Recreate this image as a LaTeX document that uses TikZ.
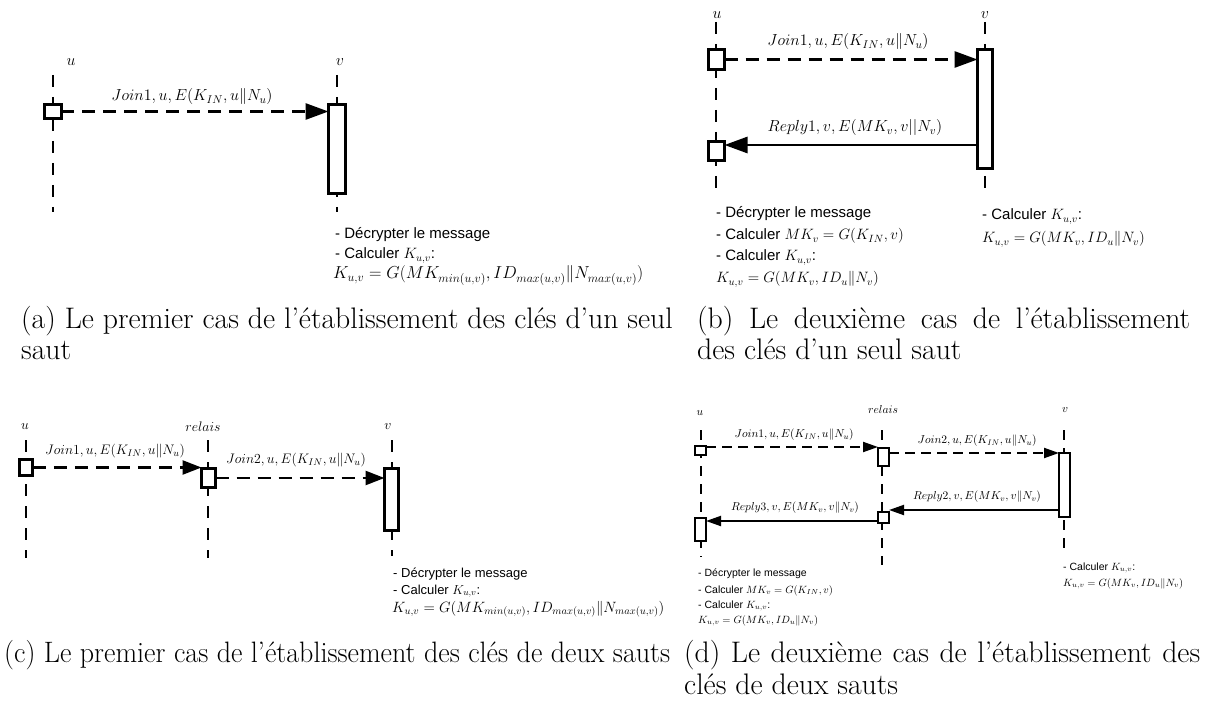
\RequirePackage{fix-cm}
\documentclass[tikz,border=0pt]{standalone}
\usepackage{graphicx}
\usepackage{fontspec}
\newfontfamily\hv{Liberation Sans}
\usetikzlibrary{arrows.meta}

\tikzset{
  life/.style={line width=1.8pt, dash pattern=on 12pt off 10pt},
  actbox/.style={draw, line width=2.6pt, fill=white, inner sep=0pt, outer sep=0pt},
  msg/.style={line width=2.8pt, -{Triangle[length=23pt,width=16pt]}},
  msgdash/.style={msg, dash pattern=on 13pt off 8pt},
  lbl/.style={inner sep=0pt, font=\fontsize{16}{19}\selectfont},
  notetxt/.style={anchor=base west, inner sep=0pt, font=\hv\fontsize{15}{18}\selectfont},
  captxt/.style={anchor=base west, inner sep=0pt, font=\fontsize{29.7}{32}\selectfont},
}

\begin{document}
\begin{tikzpicture}[x=1pt, y=-1pt]
\useasboundingbox (0,0) rectangle (1206,708);

% ---------------- (a) one hop, first case ----------------
\begin{scope}
  \node[lbl] (aul) at (71,62) {$u$};
  \node[lbl] (avl) at (340,62) {$v$};
  \draw[life] (53,75) -- (53,212);
  \draw[life] (337,75) -- (337,212);
  \node[actbox, minimum width=16.5, minimum height=14.5] (aub) at (53,111.5) {};
  \node[actbox, minimum width=17, minimum height=89] (avb) at (337,149) {};
  \draw[msgdash] (aub.east) -- (aub.east -| avb.west);
  \node[lbl] (am1) at (192,97) {$Join1, u, E(K_{IN}, u\|N_u)$};
  \node[notetxt] (an1) at (335,239) {- Décrypter le message};
  \node[notetxt] (an2) at (335,259) {- Calculer $K_{u,v}$:};
  \node[notetxt, font=\fontsize{17.3}{20}\selectfont] (an3) at (333,279)
    {$K_{u,v} = G(MK_{min(u,v)}, ID_{max(u,v)}\|N_{max(u,v)})$};
  \node[captxt] (acap1) at (21,328) {(a) Le premier cas de l'établissement des clés d'un seul};
  \node[captxt] (acap2) at (21,359) {saut};
\end{scope}

% ---------------- (b) one hop, second case ----------------
\begin{scope}
  \node[lbl] (bul) at (717,15) {$u$};
  \node[lbl] (bvl) at (985,15) {$v$};
  \draw[life] (716,22) -- (716,197);
  \draw[life] (985,22) -- (985,197);
  \node[actbox, minimum width=16, minimum height=20] (bub1) at (716.5,59.5) {};
  \node[actbox, minimum width=16, minimum height=19] (bub2) at (716.5,151) {};
  \node[actbox, minimum width=15, minimum height=119] (bvb) at (985,109) {};
  \coordinate (br1) at (850,145);
  \draw[msgdash] (bub1.east) -- (bub1.east -| bvb.west);
  \draw[msg] (bvb.west |- br1) -- (bub2.east |- br1);
  \node[lbl] (bm1) at (848,42) {$Join1, u, E(K_{IN}, u\|N_u)$};
  \node[lbl] (bm2) at (855,128) {$Reply1, v, E(MK_v, v||N_v)$};
  \node[notetxt] (bn1) at (716,218) {- Décrypter le message};
  \node[notetxt] (bn2) at (716,240) {- Calculer $MK_v = G(K_{IN}, v)$};
  \node[notetxt] (bn3) at (716,261) {- Calculer $K_{u,v}$:};
  \node[notetxt] (bn4) at (716,283) {$K_{u,v} = G(MK_v, ID_u\|N_v)$};
  \node[notetxt] (bn5) at (982,220) {- Calculer $K_{u,v}$:};
  \node[notetxt] (bn6) at (982,243) {$K_{u,v} = G(MK_v, ID_u\|N_v)$};
  \node[captxt] (bcap1) at (697,328) {\makebox[493pt][s]{(b) Le deuxième cas de l'établissement}};
  \node[captxt] (bcap2) at (697,359) {des clés d'un seul saut};
\end{scope}

% ---------------- (c) two hops, first case ----------------
\begin{scope}[lbl/.append style={font=\fontsize{13.8}{16}\selectfont},
              notetxt/.append style={font=\hv\fontsize{13}{16}\selectfont},
              msg/.append style={line width=2.5pt, -{Triangle[length=19pt,width=14pt]}}]
  \node[lbl] (cul) at (25,427) {$u$};
  \node[lbl] (crl) at (203,427) {$relais$};
  \node[lbl] (cvl) at (388,427) {$v$};
  \draw[life] (26,440) -- (26,558);
  \draw[life] (208,440) -- (208,558);
  \draw[life] (392,440) -- (392,556);
  \node[actbox, minimum width=13.5, minimum height=16.5] (cub) at (26,467.5) {};
  \node[actbox, minimum width=14, minimum height=19.5] (crb) at (208.5,478) {};
  \node[actbox, minimum width=14, minimum height=62] (cvb) at (391.5,499.5) {};
  \draw[msgdash] (cub.east) -- (cub.east -| crb.west);
  \draw[msgdash] (crb.east) -- (crb.east -| cvb.west);
  \node[lbl] (cm1) at (115,451) {$Join1, u, E(K_{IN}, u\|N_u)$};
  \node[lbl] (cm2) at (296,460) {$Join2, u, E(K_{IN}, u\|N_u)$};
  \node[notetxt] (cn1) at (393,577) {- Décrypter le message};
  \node[notetxt] (cn2) at (393,594) {- Calculer $K_{u,v}$:};
  \node[notetxt, font=\fontsize{14.9}{17}\selectfont] (cn3) at (392,612)
    {$K_{u,v} = G(MK_{min(u,v)}, ID_{max(u,v)}\|N_{max(u,v)})$};
  \node[captxt] (ccap1) at (4,662)
    {\resizebox{666pt}{!}{\scalebox{0.95}[1]{(c) Le premier cas de l'établissement des clés de deux sauts}}};
\end{scope}

% ---------------- (d) two hops, second case ----------------
\begin{scope}[lbl/.append style={font=\fontsize{11.5}{14}\selectfont},
              notetxt/.append style={font=\hv\fontsize{10.5}{13}\selectfont},
              life/.append style={line width=1.5pt, dash pattern=on 10pt off 8pt},
              actbox/.append style={line width=2pt},
              msg/.append style={line width=2pt, -{Triangle[length=15pt,width=10pt]}},
              msgdash/.append style={dash pattern=on 10pt off 6pt}]
  \node[lbl] (dul) at (700,413) {$u$};
  \node[lbl] (drl) at (883,410) {$relais$};
  \node[lbl] (dvl) at (1065,410) {$v$};
  \draw[life] (701,430) -- (701,557);
  \draw[life] (882,430) -- (882,565);
  \draw[life] (1064,430) -- (1064,553);
  \node[actbox, minimum width=11, minimum height=9] (dub1) at (700.5,450.5) {};
  \node[actbox, minimum width=11, minimum height=23] (dub2) at (700.5,529.5) {};
  \node[actbox, minimum width=11, minimum height=18] (drb1) at (883.5,457) {};
  \node[actbox, minimum width=11, minimum height=11] (drb2) at (883.5,517.5) {};
  \node[actbox, minimum width=11, minimum height=64] (dvb) at (1064.5,485) {};
  \coordinate (dy1) at (800,447);
  \coordinate (dy2) at (970,453);
  \coordinate (dy3) at (970,510);
  \coordinate (dy4) at (800,521);
  \draw[msgdash] (dub1.east |- dy1) -- (drb1.west |- dy1);
  \draw[msgdash] (drb1.east |- dy2) -- (dvb.west |- dy2);
  \draw[msg] (dvb.west |- dy3) -- (drb2.east |- dy3);
  \draw[msg] (drb2.west |- dy4) -- (dub2.east |- dy4);
  \node[lbl] (dm1) at (794,435) {$Join1, u, E(K_{IN}, u\|N_u)$};
  \node[lbl] (dm2) at (977,441) {$Join2, u, E(K_{IN}, u\|N_u)$};
  \node[lbl] (dm3) at (977,497) {$Reply2, v, E(MK_v, v\|N_v)$};
  \node[lbl] (dm4) at (795,508) {$Reply3, v, E(MK_v, v\|N_v)$};
  \node[notetxt] (dn1) at (698,576) {- Décrypter le message};
  \node[notetxt] (dn2) at (698,593) {- Calculer $MK_v = G(K_{IN}, v)$};
  \node[notetxt] (dn3) at (698,608) {- Calculer $K_{u,v}$:};
  \node[notetxt] (dn4) at (698,623) {$K_{u,v} = G(MK_v, ID_u\|N_v)$};
  \node[notetxt] (dn5) at (1063,570) {- Calculer $K_{u,v}$:};
  \node[notetxt] (dn6) at (1063,586) {$K_{u,v} = G(MK_v, ID_u\|N_v)$};
  \node[captxt] (dcap1) at (684,662) {\makebox[516pt][s]{(d) Le deuxième cas de l'établissement des}};
  \node[captxt] (dcap2) at (684,694) {clés de deux sauts};
\end{scope}
\end{tikzpicture}
\end{document}
